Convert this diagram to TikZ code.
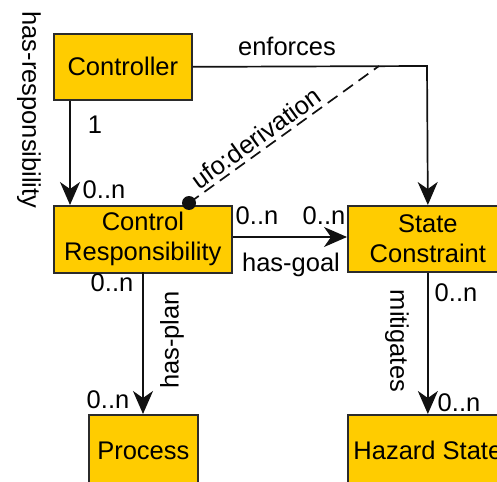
\documentclass[tikz,border=0pt]{standalone}
\usepackage{fontspec}
\setmainfont{Liberation Sans}
\usetikzlibrary{arrows.meta}
\definecolor{boxfill}{HTML}{FFCC00}
\definecolor{boxline}{HTML}{2B2B2B}
\definecolor{linkline}{HTML}{111111}
\begin{document}
\begin{tikzpicture}[x=1pt,y=-1pt,
  font=\fontsize{25.5}{30}\selectfont,
  entity/.style={draw=boxline,fill=boxfill,line width=1.7pt,inner sep=0pt,
    align=center,anchor=north west},
  link/.style={draw=linkline,line width=1.7pt,
    -{Stealth[length=23pt,width=20pt,inset=7pt]}},
  lbl/.style={inner sep=0pt,anchor=center}]
\useasboundingbox (0,0) rectangle (497,481);

% classes
\node[entity,minimum width=138pt,minimum height=66pt] (ctrl) at (53,33) {Controller};
\node[entity,minimum width=178pt,minimum height=67pt] (resp) at (53,205)
  {Control\\Responsibility};
\node[entity,minimum width=160pt,minimum height=66pt] (sc) at (347,205)
  {State\\Constraint};
\node[entity,minimum width=109pt,minimum height=72pt] (proc) at (88,414) {Process};
\node[entity,minimum width=160pt,minimum height=72pt] (haz) at (347,414) {Hazard State};

% bend point of the enforces link and end of the derivation line
\coordinate (bend) at (427,66);
\coordinate (derivEnd) at (379,66);

% has-responsibility
\draw[link] (ctrl.south west) ++(17,0) coordinate (hrA) -- (hrA |- resp.north);
\node[lbl] (one) at (95,125) {1};
\node[lbl] (hrN) at (104,190) {0..n};
\node[lbl,rotate=-90] (hrL) at (29,110) {has-responsibility};

% enforces
\draw[link] (ctrl.east) -- (bend) -- (sc.north);
\node[lbl] (enf) at (287,46) {enforces};

% ufo:derivation
\fill[linkline] (189,203) circle (7pt) coordinate (dot);
\draw[linkline,line width=1.7pt,dash pattern=on 12pt off 7pt] (dot) -- (derivEnd);
\node[lbl,rotate=35.8] (der) at (256,138) {ufo:derivation};

% has-goal
\draw[link] (resp.east |- 0,237) coordinate (hgA) -- (hgA -| sc.west);
\node[lbl] (hgN1) at (257,216) {0..n};
\node[lbl] (hgN2) at (324,216) {0..n};
\node[lbl] (hgL) at (291,265) {has-goal};

% has-plan
\draw[link] (143,272) coordinate (hpA) -- (hpA |- proc.north);
\node[lbl] (hpN1) at (112,283) {0..n};
\node[lbl] (hpN2) at (108,400) {0..n};
\node[lbl,rotate=90] (hpL) at (172,340) {has-plan};

% mitigates
\draw[link] (sc.south) -- (haz.north);
\node[lbl] (miN1) at (456,293) {0..n};
\node[lbl] (miN2) at (459,403) {0..n};
\node[lbl,rotate=-90] (miL) at (397,341) {mitigates};
\end{tikzpicture}
\end{document}
